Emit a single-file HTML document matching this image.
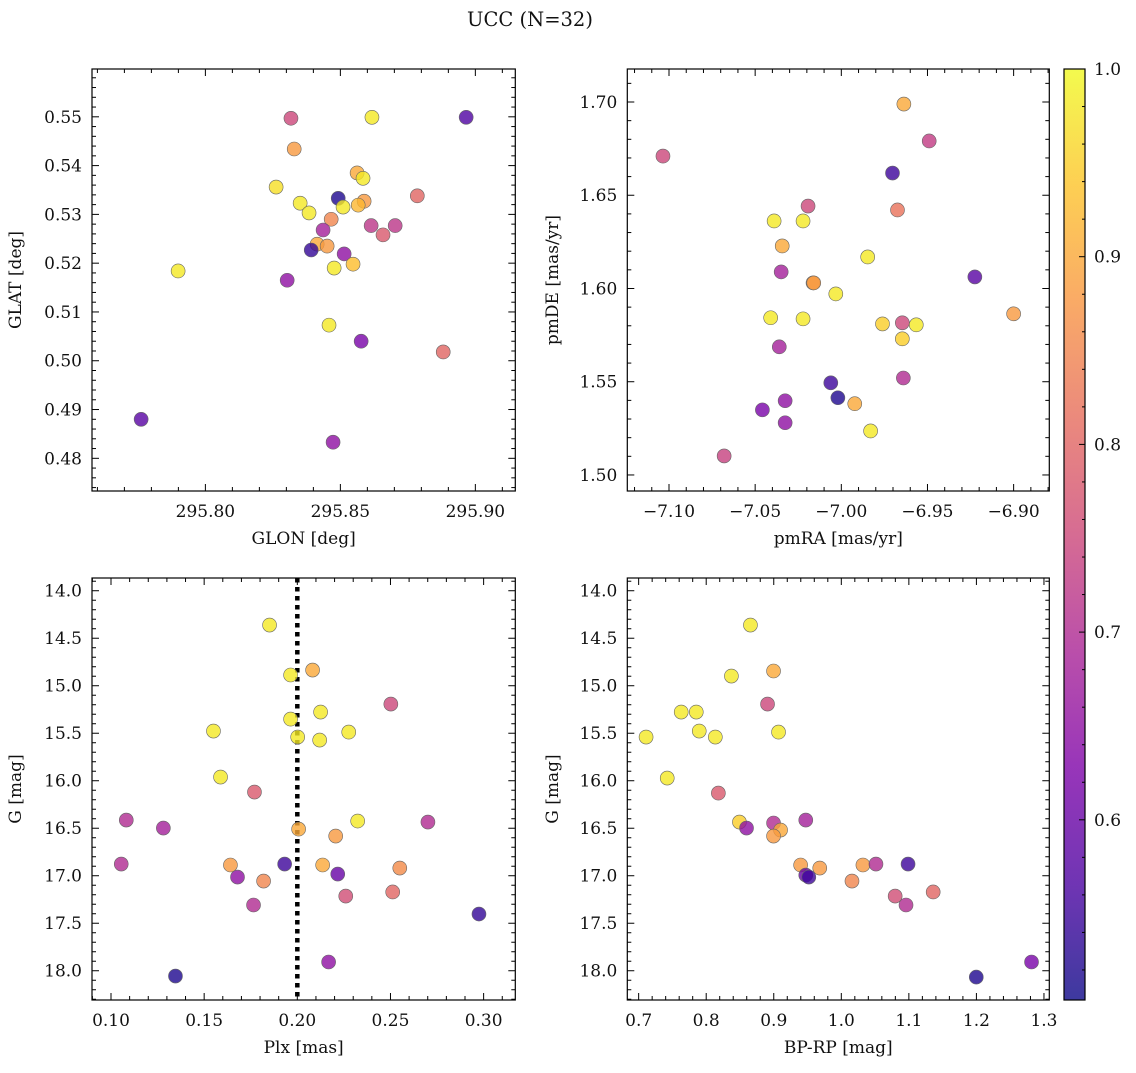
<!DOCTYPE html>
<html><head><meta charset="utf-8"><style>
html,body{margin:0;padding:0;background:#fff;}
svg text{font-family:"DejaVu Serif","Liberation Serif",serif;fill:#111;}
</style></head><body>
<svg id="fig" width="1136" height="1068" viewBox="0 0 1136 1068" xmlns="http://www.w3.org/2000/svg">
<text x="530" y="26" text-anchor="middle" font-size="19.5">UCC (N=32)</text>
</svg>
<script>
// Panel 1: GLON vs GLAT
const glon1 = [295.8317,295.8329,295.8966,295.8617,295.8262,295.8351,295.8384,295.8492,295.8562,295.8584,295.8588,295.8566,295.8510,295.8785,295.8614,295.8703,295.8658,295.8466,295.8436,295.8414,295.8451,295.8392,295.8514,295.8547,295.8477,295.7899,295.8303,295.8458,295.8577,295.8881,295.7762,295.8473];
const glat1 = [0.5497,0.5434,0.5499,0.5499,0.5356,0.5323,0.5303,0.5333,0.5385,0.5374,0.5327,0.5319,0.5315,0.5338,0.5277,0.5277,0.5258,0.5290,0.5268,0.5239,0.5235,0.5227,0.5219,0.5198,0.5190,0.5184,0.5165,0.5073,0.5040,0.5018,0.4880,0.4833];
const prob1 = [0.75,0.88,0.57,0.98,0.97,0.98,0.98,0.52,0.90,0.98,0.88,0.92,0.98,0.80,0.72,0.72,0.78,0.85,0.68,0.90,0.88,0.54,0.65,0.93,0.98,0.98,0.65,0.98,0.62,0.80,0.58,0.65];
// Panel 2: pmRA vs pmDE
const pmra2 = [-7.1035,-6.9637,-6.9490,-6.9703,-6.9674,-7.0193,-7.0390,-7.0222,-7.0343,-6.9847,-7.0349,-7.0164,-7.0160,-6.9225,-7.0032,-6.9000,-7.0410,-7.0222,-6.9761,-6.9646,-6.9565,-6.9646,-7.0360,-6.9640,-7.0061,-7.0020,-7.0326,-7.0458,-6.9922,-7.0326,-6.9830,-7.0680];
const pmde2 = [1.6710,1.6989,1.6791,1.6619,1.6421,1.6442,1.6362,1.6362,1.6228,1.6169,1.6089,1.6030,1.6030,1.6062,1.5971,1.5864,1.5843,1.5837,1.5810,1.5816,1.5805,1.5730,1.5687,1.5520,1.5494,1.5414,1.5398,1.5349,1.5382,1.5280,1.5236,1.5102];
const prob2 = [0.75,0.90,0.73,0.55,0.82,0.75,0.98,0.98,0.90,0.98,0.68,0.88,0.88,0.58,0.98,0.88,0.98,0.98,0.95,0.75,0.98,0.95,0.68,0.70,0.55,0.52,0.65,0.62,0.90,0.65,0.98,0.74];
// Panel 3: Plx vs G
const plx3 = [0.1851,0.1964,0.2082,0.1964,0.2125,0.2502,0.1550,0.2002,0.2120,0.2276,0.1588,0.1770,0.1082,0.1281,0.2007,0.2206,0.2324,0.2701,0.1055,0.1641,0.1932,0.2136,0.2550,0.1679,0.2217,0.1819,0.2512,0.2260,0.1765,0.2975,0.2168,0.1346];
const g3 = [14.361,14.887,14.835,15.351,15.277,15.193,15.477,15.540,15.572,15.488,15.961,16.119,16.414,16.498,16.509,16.582,16.424,16.435,16.877,16.887,16.877,16.887,16.919,17.014,16.982,17.056,17.171,17.214,17.308,17.403,17.908,18.056];
const prob3 = [0.98,0.98,0.90,0.98,0.98,0.75,0.98,0.98,0.98,0.98,0.98,0.78,0.70,0.68,0.90,0.88,0.98,0.70,0.70,0.88,0.55,0.90,0.86,0.65,0.60,0.85,0.80,0.76,0.70,0.54,0.65,0.52];
// Panel 4: BP-RP vs G
const bprp4 = [0.8655,0.8373,0.8997,0.7630,0.7853,0.8908,0.7110,0.7897,0.8135,0.9071,0.7423,0.8180,0.8492,0.8597,0.8997,0.9101,0.8997,0.9474,0.9398,0.9681,1.0320,1.0513,1.0988,0.9474,0.9519,1.0158,1.0797,1.1360,1.0958,1.2816,1.1998];
const g4 = [14.361,14.898,14.845,15.277,15.277,15.193,15.540,15.477,15.540,15.488,15.972,16.130,16.435,16.498,16.445,16.519,16.582,16.414,16.887,16.919,16.887,16.877,16.877,16.993,17.014,17.056,17.214,17.171,17.308,17.908,18.067];
const prob4 = [0.98,0.98,0.90,0.98,0.98,0.75,0.98,0.98,0.98,0.98,0.98,0.78,0.95,0.65,0.70,0.90,0.88,0.68,0.88,0.88,0.88,0.70,0.55,0.60,0.55,0.85,0.76,0.80,0.70,0.62,0.52];
// colorbar
const cbTicks = [0.6,0.7,0.8,0.9,1.0];
const cbMin = 0.504, cbMax = 1.0;

const NS = "http://www.w3.org/2000/svg";
const fig = document.getElementById('fig');
const FS = 17;
function mk(tag, attrs, parent){const e=document.createElementNS(NS,tag);for(const k in attrs)e.setAttribute(k,attrs[k]);(parent||fig).appendChild(e);return e;}
const plasma=[[13,8,135],[76,2,161],[126,3,168],[169,35,149],[204,71,120],[230,108,92],[248,149,64],[253,195,40],[240,249,33]];
function cmap(v){let t=(v-cbMin)/(cbMax-cbMin);t=Math.max(0,Math.min(1,t));const f=t*8;const i=Math.min(7,Math.floor(f));const r=f-i;const a=plasma[i],b=plasma[i+1];return 'rgb('+[0,1,2].map(k=>Math.round(a[k]+(b[k]-a[k])*r)).join(',')+')';}
function fmt(v,d){const s=Math.abs(v).toFixed(d);return (v<-1e-9?'\u2212':'')+s;}

function panel(o){
  const {x0,y0,x1,y1,xlim,ylim,name}=o;
  const sx=v=>x0+(v-xlim[0])/(xlim[1]-xlim[0])*(x1-x0);
  const sy=v=>o.invert? y0+(v-ylim[0])/(ylim[1]-ylim[0])*(y1-y0) : y1-(v-ylim[0])/(ylim[1]-ylim[0])*(y1-y0);
  const g=mk('g',{});
  
  
  const tg=mk('g',{stroke:'#000','stroke-width':1},g);
  
  
  const lo=Math.min(xlim[0],xlim[1]),hi=Math.max(xlim[0],xlim[1]);
  for(let k=Math.ceil(lo/o.xmin-1e-6);k*o.xmin<=hi+1e-9;k++){const v=k*o.xmin;const px=sx(v);
    const maj=Math.abs(v/o.xmaj-Math.round(v/o.xmaj))<1e-4;const L=maj?7:4;
    mk('line',{x1:px,x2:px,y1:y1,y2:y1-L},tg);mk('line',{x1:px,x2:px,y1:y0,y2:y0+L},tg);
    if(maj){const t=mk('text',{x:px,y:y1+26,'text-anchor':'middle','font-size':FS,stroke:'none'},g);t.textContent=fmt(v,o.xd);
      
      }}
  const ylo=Math.min(ylim[0],ylim[1]),yhi=Math.max(ylim[0],ylim[1]);
  for(let k=Math.ceil(ylo/o.ymin-1e-6);k*o.ymin<=yhi+1e-9;k++){const v=k*o.ymin;const py=sy(v);
    const maj=Math.abs(v/o.ymaj-Math.round(v/o.ymaj))<1e-4;const L=maj?7:4;
    mk('line',{x1:x0,x2:x0+L,y1:py,y2:py},tg);mk('line',{x1:x1,x2:x1-L,y1:py,y2:py},tg);
    if(maj){const t=mk('text',{x:x0-10,y:py+6,'text-anchor':'end','font-size':FS,stroke:'none'},g);t.textContent=fmt(v,o.yd);
      
      }}
  const xl=mk('text',{x:(x0+x1)/2,y:y1+53,'text-anchor':'middle','font-size':FS},g);xl.textContent=o.xlabel;
  
  
  const yx=o.ylx, yy=(y0+y1)/2;
  const yl=mk('text',{x:yx,y:yy,'text-anchor':'middle','font-size':FS,transform:'rotate(-90 '+yx+' '+yy+')'},g);yl.textContent=o.ylabel;
  
  
  if(o.vline!==undefined){const l=mk('line',{x1:sx(o.vline),x2:sx(o.vline),y1:y0,y2:y1,stroke:'#000','stroke-width':4.5,'stroke-dasharray':'4.5,4.5'},g);
    
    }
  for(let i=0;i<o.xs.length;i++){
    const c=mk('circle',{cx:sx(o.xs[i]),cy:sy(o.ys[i]),r:7,fill:cmap(o.cs[i]),'fill-opacity':0.8,stroke:'#666','stroke-width':0.6},g);
    
    
  }
  const f=mk('rect',{x:x0,y:y0,width:x1-x0,height:y1-y0,fill:'none',stroke:'#000','stroke-width':1.2},g);
  
  
}

panel({name:'glon-glat-panel',x0:92,y0:69,x1:515.3,y1:491,xlim:[295.758,295.9148],ylim:[0.4733,0.5598],xmaj:0.05,xmin:0.01,ymaj:0.01,ymin:0.002,xd:2,yd:2,xs:glon1,ys:glat1,cs:prob1,xlabel:'GLON [deg]',ylabel:'GLAT [deg]',ylx:21});
panel({name:'pm-panel',x0:627.3,y0:69,x1:1049.3,y1:491,xlim:[-7.1242,-6.8793],ylim:[1.4914,1.7177],xmaj:0.05,xmin:0.01,ymaj:0.05,ymin:0.01,xd:2,yd:2,xs:pmra2,ys:pmde2,cs:prob2,xlabel:'pmRA [mas/yr]',ylabel:'pmDE [mas/yr]',ylx:558});
panel({name:'plx-g-panel',x0:92,y0:578,x1:515.3,y1:1000,xlim:[0.0898,0.317],ylim:[13.866,18.308],invert:true,xmaj:0.05,xmin:0.01,ymaj:0.5,ymin:0.1,xd:2,yd:1,xs:plx3,ys:g3,cs:prob3,xlabel:'Plx [mas]',ylabel:'G [mag]',ylx:21,vline:0.2});
panel({name:'cmd-panel',x0:627.3,y0:578,x1:1049.3,y1:1000,xlim:[0.6832,1.3079],ylim:[13.866,18.308],invert:true,xmaj:0.1,xmin:0.02,ymaj:0.5,ymin:0.1,xd:1,yd:1,xs:bprp4,ys:g4,cs:prob4,xlabel:'BP-RP [mag]',ylabel:'G [mag]',ylx:558});

// colorbar
const defs=mk('defs',{});const lg=mk('linearGradient',{id:'pl',x1:0,y1:1,x2:0,y2:0},defs);
plasma.forEach((c,i)=>mk('stop',{offset:(i/8),'stop-color':'rgb('+c.join(',')+')','stop-opacity':0.8},lg));
const cb=mk('g',{});


const cx0=1064,cx1=1085,cy0=69,cy1=1000;
mk('rect',{x:cx0,y:cy0,width:cx1-cx0,height:cy1-cy0,fill:'url(#pl)'},cb);
const cby=v=>cy1-(v-cbMin)/(cbMax-cbMin)*(cy1-cy0);
for(let k=26;k<=50;k++){const v=k*0.02;if(v<cbMin||v>cbMax+1e-9)continue;const py=cby(v);const maj=(k%5===0);
  mk('line',{x1:cx1,x2:cx1-(maj?6:3),y1:py,y2:py,stroke:'#000','stroke-width':1},cb);}
cbTicks.forEach(v=>{const t=mk('text',{x:cx1+9,y:cby(v)+6,'font-size':FS},cb);t.textContent=v.toFixed(1);
  
  });
mk('rect',{x:cx0,y:cy0,width:cx1-cx0,height:cy1-cy0,fill:'none',stroke:'#000','stroke-width':1.2},cb);
</script>
</body></html>
